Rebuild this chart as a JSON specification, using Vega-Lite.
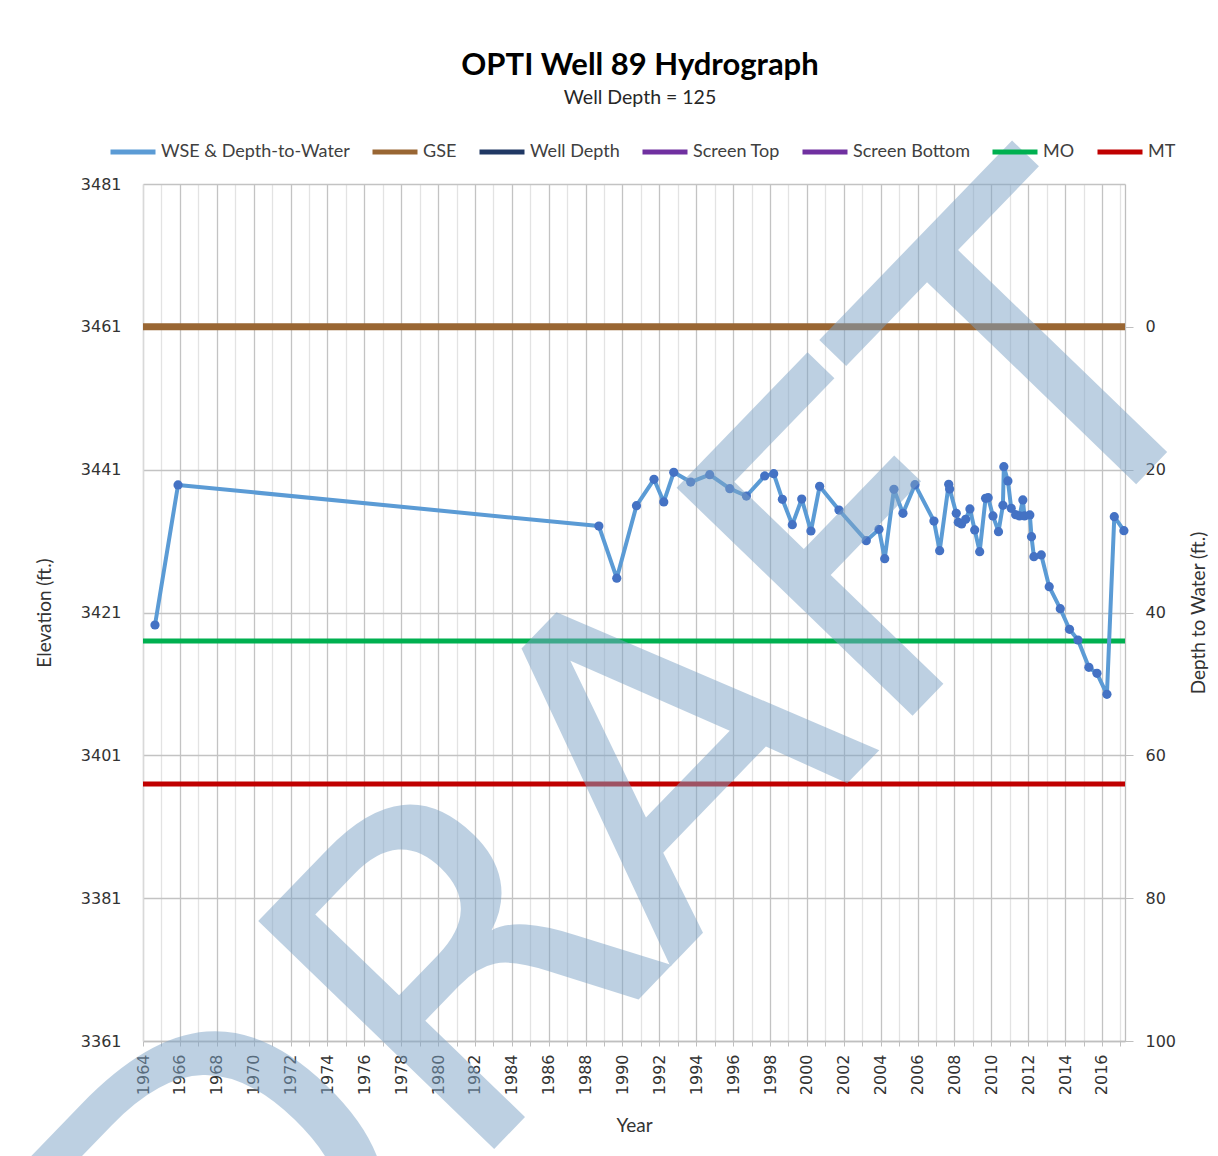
{
  "$schema": "https://vega.github.io/schema/vega-lite/v6.json",
  "width": 982,
  "height": 857,
  "autosize": {"type": "none"},
  "padding": {"left": 143, "top": 184, "right": 93, "bottom": 115},
  "background": "white",
  "title": {
    "text": "OPTI Well 89 Hydrograph",
    "subtitle": "Well Depth = 125",
    "anchor": "middle",
    "frame": "group",
    "offset": 11,
    "dx": 6,
    "font": "Lato",
    "fontSize": 31,
    "fontWeight": "bold",
    "color": "#000000",
    "subtitleFont": "Lato",
    "subtitleFontSize": 19.5,
    "subtitleColor": "#262626",
    "subtitlePadding": 7
  },
  "datasets": {
    "series": [
      {"series": "GSE", "year": 1964, "elev": 3461},
      {"series": "GSE", "year": 2017.25, "elev": 3461},
      {"series": "MO", "year": 1964, "elev": 3417},
      {"series": "MO", "year": 2017.25, "elev": 3417},
      {"series": "MT", "year": 1964, "elev": 3397},
      {"series": "MT", "year": 2017.25, "elev": 3397},
      {"series": "WSE & Depth-to-Water", "year": 1964.65, "elev": 3419.25, "depth": 41.75},
      {"series": "WSE & Depth-to-Water", "year": 1965.9, "elev": 3438.86, "depth": 22.14},
      {"series": "WSE & Depth-to-Water", "year": 1988.72, "elev": 3433.1, "depth": 27.9},
      {"series": "WSE & Depth-to-Water", "year": 1989.69, "elev": 3425.8, "depth": 35.2},
      {"series": "WSE & Depth-to-Water", "year": 1990.76, "elev": 3435.96, "depth": 25.04},
      {"series": "WSE & Depth-to-Water", "year": 1991.71, "elev": 3439.65, "depth": 21.35},
      {"series": "WSE & Depth-to-Water", "year": 1992.24, "elev": 3436.48, "depth": 24.52},
      {"series": "WSE & Depth-to-Water", "year": 1992.78, "elev": 3440.63, "depth": 20.37},
      {"series": "WSE & Depth-to-Water", "year": 1993.7, "elev": 3439.27, "depth": 21.73},
      {"series": "WSE & Depth-to-Water", "year": 1994.73, "elev": 3440.3, "depth": 20.7},
      {"series": "WSE & Depth-to-Water", "year": 1995.82, "elev": 3438.34, "depth": 22.66},
      {"series": "WSE & Depth-to-Water", "year": 1996.72, "elev": 3437.31, "depth": 23.69},
      {"series": "WSE & Depth-to-Water", "year": 1997.71, "elev": 3440.12, "depth": 20.88},
      {"series": "WSE & Depth-to-Water", "year": 1998.2, "elev": 3440.44, "depth": 20.56},
      {"series": "WSE & Depth-to-Water", "year": 1998.67, "elev": 3436.85, "depth": 24.15},
      {"series": "WSE & Depth-to-Water", "year": 1999.21, "elev": 3433.3, "depth": 27.7},
      {"series": "WSE & Depth-to-Water", "year": 1999.72, "elev": 3436.89, "depth": 24.11},
      {"series": "WSE & Depth-to-Water", "year": 2000.22, "elev": 3432.41, "depth": 28.59},
      {"series": "WSE & Depth-to-Water", "year": 2000.69, "elev": 3438.67, "depth": 22.33},
      {"series": "WSE & Depth-to-Water", "year": 2001.74, "elev": 3435.35, "depth": 25.65},
      {"series": "WSE & Depth-to-Water", "year": 2003.22, "elev": 3431.06, "depth": 29.94},
      {"series": "WSE & Depth-to-Water", "year": 2003.91, "elev": 3432.65, "depth": 28.35},
      {"series": "WSE & Depth-to-Water", "year": 2004.22, "elev": 3428.54, "depth": 32.46},
      {"series": "WSE & Depth-to-Water", "year": 2004.72, "elev": 3438.25, "depth": 22.75},
      {"series": "WSE & Depth-to-Water", "year": 2005.21, "elev": 3434.89, "depth": 26.11},
      {"series": "WSE & Depth-to-Water", "year": 2005.86, "elev": 3438.9, "depth": 22.1},
      {"series": "WSE & Depth-to-Water", "year": 2006.89, "elev": 3433.81, "depth": 27.19},
      {"series": "WSE & Depth-to-Water", "year": 2007.2, "elev": 3429.66, "depth": 31.34},
      {"series": "WSE & Depth-to-Water", "year": 2007.69, "elev": 3438.95, "depth": 22.05},
      {"series": "WSE & Depth-to-Water", "year": 2007.74, "elev": 3438.29, "depth": 22.71},
      {"series": "WSE & Depth-to-Water", "year": 2008.1, "elev": 3434.89, "depth": 26.11},
      {"series": "WSE & Depth-to-Water", "year": 2008.21, "elev": 3433.63, "depth": 27.37},
      {"series": "WSE & Depth-to-Water", "year": 2008.39, "elev": 3433.39, "depth": 27.61},
      {"series": "WSE & Depth-to-Water", "year": 2008.61, "elev": 3434.05, "depth": 26.95},
      {"series": "WSE & Depth-to-Water", "year": 2008.84, "elev": 3435.5, "depth": 25.5},
      {"series": "WSE & Depth-to-Water", "year": 2009.1, "elev": 3432.56, "depth": 28.44},
      {"series": "WSE & Depth-to-Water", "year": 2009.37, "elev": 3429.52, "depth": 31.48},
      {"series": "WSE & Depth-to-Water", "year": 2009.69, "elev": 3436.99, "depth": 24.01},
      {"series": "WSE & Depth-to-Water", "year": 2009.83, "elev": 3437.08, "depth": 23.92},
      {"series": "WSE & Depth-to-Water", "year": 2010.09, "elev": 3434.52, "depth": 26.48},
      {"series": "WSE & Depth-to-Water", "year": 2010.39, "elev": 3432.32, "depth": 28.68},
      {"series": "WSE & Depth-to-Water", "year": 2010.63, "elev": 3436.01, "depth": 24.99},
      {"series": "WSE & Depth-to-Water", "year": 2010.68, "elev": 3441.42, "depth": 19.58},
      {"series": "WSE & Depth-to-Water", "year": 2010.9, "elev": 3439.42, "depth": 21.58},
      {"series": "WSE & Depth-to-Water", "year": 2011.08, "elev": 3435.59, "depth": 25.41},
      {"series": "WSE & Depth-to-Water", "year": 2011.32, "elev": 3434.7, "depth": 26.3},
      {"series": "WSE & Depth-to-Water", "year": 2011.53, "elev": 3434.52, "depth": 26.48},
      {"series": "WSE & Depth-to-Water", "year": 2011.71, "elev": 3436.76, "depth": 24.24},
      {"series": "WSE & Depth-to-Water", "year": 2011.8, "elev": 3434.52, "depth": 26.48},
      {"series": "WSE & Depth-to-Water", "year": 2012.09, "elev": 3434.66, "depth": 26.34},
      {"series": "WSE & Depth-to-Water", "year": 2012.18, "elev": 3431.62, "depth": 29.38},
      {"series": "WSE & Depth-to-Water", "year": 2012.31, "elev": 3428.82, "depth": 32.18},
      {"series": "WSE & Depth-to-Water", "year": 2012.71, "elev": 3429.06, "depth": 31.94},
      {"series": "WSE & Depth-to-Water", "year": 2013.14, "elev": 3424.62, "depth": 36.38},
      {"series": "WSE & Depth-to-Water", "year": 2013.74, "elev": 3421.53, "depth": 39.47},
      {"series": "WSE & Depth-to-Water", "year": 2014.24, "elev": 3418.65, "depth": 42.35},
      {"series": "WSE & Depth-to-Water", "year": 2014.7, "elev": 3417.15, "depth": 43.85},
      {"series": "WSE & Depth-to-Water", "year": 2015.29, "elev": 3413.33, "depth": 47.67},
      {"series": "WSE & Depth-to-Water", "year": 2015.73, "elev": 3412.49, "depth": 48.51},
      {"series": "WSE & Depth-to-Water", "year": 2016.27, "elev": 3409.55, "depth": 51.45},
      {"series": "WSE & Depth-to-Water", "year": 2016.67, "elev": 3434.42, "depth": 26.58},
      {"series": "WSE & Depth-to-Water", "year": 2017.19, "elev": 3432.46, "depth": 28.54}
    ],
    "watermark": [
      {"label": "DRAFT", "year": 1996.1, "elev": 3380.8}
    ]
  },
  "encoding": {
    "x": {
      "field": "year",
      "type": "quantitative",
      "scale": {"domain": [1964, 2017.25], "nice": false, "zero": false},
      "axis": {
        "title": "Year",
        "values": [1964,1965,1966,1967,1968,1969,1970,1971,1972,1973,1974,1975,1976,1977,1978,1979,1980,1981,1982,1983,1984,1985,1986,1987,1988,1989,1990,1991,1992,1993,1994,1995,1996,1997,1998,1999,2000,2001,2002,2003,2004,2005,2006,2007,2008,2009,2010,2011,2012,2013,2014,2015,2016,2017],
        "format": "d",
        "labelExpr": "datum.value % 2 === 0 ? datum.label : ''",
        "labelAngle": 270,
        "labelAlign": "right",
        "labelBaseline": "middle",
        "labelFlush": false,
        "labelOverlap": false,
        "labelBound": false,
        "labelFont": "DejaVu Sans",
        "labelFontSize": 16,
        "labelColor": "#333333",
        "labelPadding": 8,
        "ticks": true,
        "tickSize": 5,
        "tickColor": "#bfbfbf",
        "domainColor": "#bfbfbf",
        "domainWidth": 1.3,
        "grid": true,
        "gridColor": {"condition": {"test": "datum.value % 2 === 0", "value": "#c3c3c3"}, "value": "#e3e3e3"},
        "gridWidth": 1.3,
        "titleFont": "Lato",
        "titleFontSize": 19,
        "titleFontWeight": "normal",
        "titleColor": "#333333",
        "titlePadding": 22
      }
    }
  },
  "layer": [
    {
      "data": {"name": "series"},
      "encoding": {
        "y": {
          "field": "elev",
          "type": "quantitative",
          "scale": {"domain": [3361, 3481], "nice": false, "zero": false},
          "axis": {
            "orient": "left",
            "title": "Elevation (ft.)",
            "values": [3361, 3381, 3401, 3421, 3441, 3461, 3481],
            "format": "d",
            "ticks": false,
            "labelFlush": false,
            "labelFont": "DejaVu Sans",
            "labelFontSize": 16,
            "labelColor": "#333333",
            "labelPadding": 22,
            "domainColor": "#d9d9d9",
            "domainWidth": 1.3,
            "grid": true,
            "gridColor": "#c3c3c3",
            "gridWidth": 1.3,
            "titleFont": "Lato",
            "titleFontSize": 19,
            "titleFontWeight": "normal",
            "titleColor": "#333333",
            "titlePadding": 26
          }
        },
        "color": {
          "field": "series",
          "type": "nominal",
          "scale": {
            "domain": ["WSE & Depth-to-Water", "GSE", "Well Depth", "Screen Top", "Screen Bottom", "MO", "MT"],
            "range": ["#5b9bd5", "#996633", "#203864", "#7030a0", "#7030a0", "#00b050", "#c00000"]
          },
          "legend": {
            "title": null,
            "orient": "none",
            "legendX": -35,
            "legendY": -57,
            "direction": "horizontal",
            "columns": 7,
            "columnPadding": 12,
            "symbolType": "stroke",
            "symbolSize": 2025,
            "symbolStrokeWidth": 5,
            "labelFont": "Lato",
            "labelFontSize": 18,
            "labelColor": "#404040",
            "labelOffset": 3,
            "labelLimit": 400,
            "symbolLimit": 0
          }
        }
      },
      "layer": [
        {
          "transform": [{"filter": "datum.series === 'GSE'"}],
          "mark": {"type": "line", "strokeWidth": 7, "strokeCap": "butt"}
        },
        {
          "transform": [{"filter": "datum.series === 'MO'"}],
          "mark": {"type": "line", "strokeWidth": 5, "strokeCap": "butt"}
        },
        {
          "transform": [{"filter": "datum.series === 'MT'"}],
          "mark": {"type": "line", "strokeWidth": 5, "strokeCap": "butt"}
        },
        {
          "transform": [{"filter": "datum.series === 'WSE & Depth-to-Water'"}],
          "mark": {"type": "line", "strokeWidth": 4, "strokeJoin": "round"}
        }
      ]
    },
    {
      "data": {"name": "series"},
      "transform": [{"filter": "datum.series === 'WSE & Depth-to-Water'"}],
      "mark": {"type": "circle", "size": 85, "color": "#4472c4", "opacity": 1},
      "encoding": {
        "y": {
          "field": "depth",
          "type": "quantitative",
          "scale": {"domain": [-20, 100], "reverse": true, "nice": false, "zero": false},
          "axis": {
            "orient": "right",
            "title": "Depth to Water (ft.)",
            "values": [0, 20, 40, 60, 80, 100],
            "format": "d",
            "grid": false,
            "ticks": true,
            "tickSize": 8,
            "tickColor": "#bfbfbf",
            "domainColor": "#bfbfbf",
            "domainWidth": 1.3,
            "labelFlush": false,
            "labelFont": "DejaVu Sans",
            "labelFontSize": 16,
            "labelColor": "#333333",
            "labelPadding": 12,
            "titleFont": "Lato",
            "titleFontSize": 19,
            "titleFontWeight": "normal",
            "titleColor": "#333333",
            "titleAngle": 270,
            "titleBaseline": "top",
            "titlePadding": 14
          }
        }
      }
    },
    {
      "data": {"name": "watermark"},
      "mark": {
        "type": "text",
        "angle": -46,
        "fontSize": 450,
        "font": "DejaVu Sans",
        "align": "center",
        "baseline": "alphabetic",
        "color": "#7da3c6",
        "opacity": 0.5,
        "clip": false
      },
      "encoding": {
        "y": {
          "field": "elev",
          "type": "quantitative",
          "scale": {"domain": [3361, 3481], "nice": false, "zero": false},
          "axis": null
        },
        "text": {"field": "label", "type": "nominal"}
      }
    }
  ],
  "resolve": {"scale": {"y": "independent"}, "axis": {"y": "independent"}},
  "config": {
    "view": {"stroke": null},
    "font": "Lato"
  }
}
